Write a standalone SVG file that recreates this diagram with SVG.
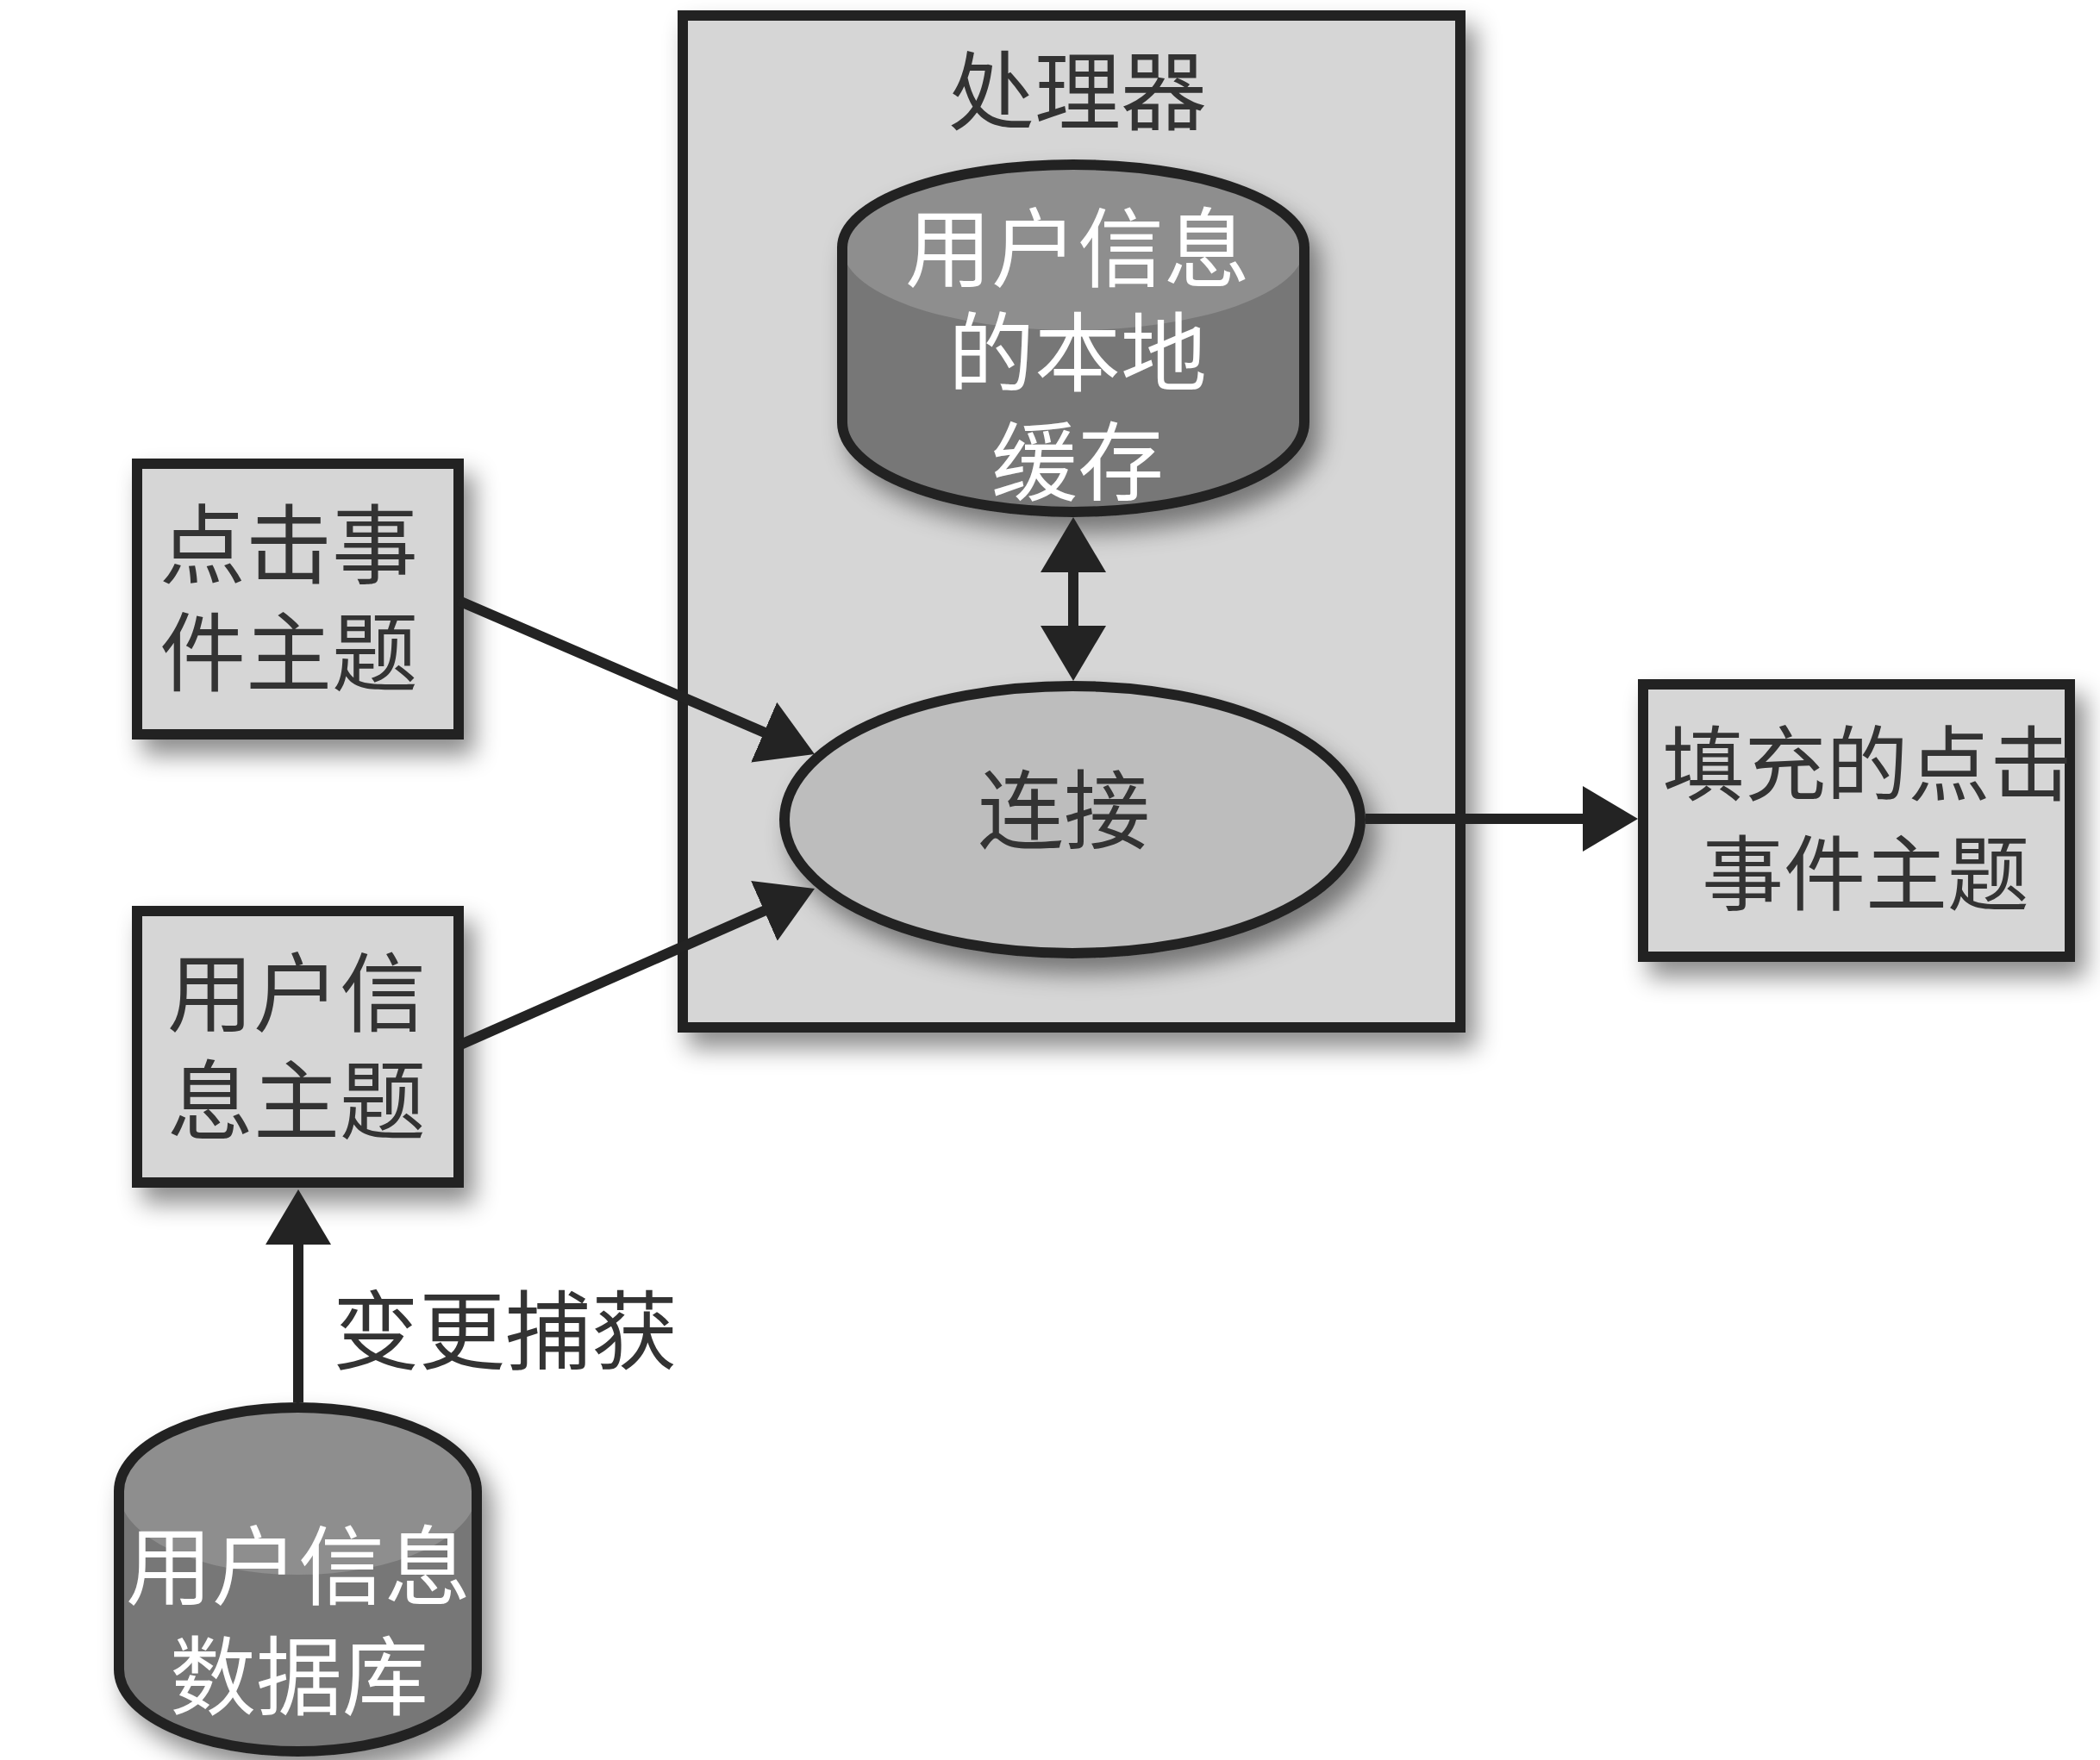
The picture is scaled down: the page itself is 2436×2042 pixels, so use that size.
<svg xmlns="http://www.w3.org/2000/svg" width="2436" height="2042" viewBox="0 0 2436 2042">
<defs>
<filter id="shadow" x="-20%" y="-20%" width="150%" height="150%">
<feDropShadow dx="12" dy="18" stdDeviation="14" flood-color="#000" flood-opacity="0.45"/>
</filter>
<marker id="ah" viewBox="0 0 64 76" refX="44" refY="38" markerWidth="64" markerHeight="76" orient="auto-start-reverse" markerUnits="userSpaceOnUse">
<path d="M0,0 L64,38 L0,76 Z" fill="#232323"/>
</marker>
<style>
.box{fill:#d6d6d6;stroke:#232323;stroke-width:12}
.ell{fill:#bdbdbd;stroke:#232323;stroke-width:12}
.cylbody{fill:#777777}
.cylcap{fill:#8e8e8e}
.cylline{fill:none;stroke:#232323;stroke-width:12}
.t{font-family:"Liberation Sans","Noto Sans CJK SC","Noto Sans CJK TC",sans-serif;font-size:100px;fill:#333333;text-anchor:middle}
.w{fill:#ffffff}
.conn{fill:none;stroke:#232323;stroke-width:12}
</style>
</defs>
<rect width="2436" height="2042" fill="#ffffff"/>

<g id="processor">
<rect class="box" x="792" y="18" width="902" height="1174" filter="url(#shadow)"/>
<text class="t" x="1250" y="143">处理器</text>
</g>

<g id="local-cache" filter="url(#shadow)">
<path class="cylbody" d="M977,287 A268,96 0 0 1 1513,287 L1513,490 A268,104 0 0 1 977,490 Z"/>
<ellipse class="cylcap" cx="1245" cy="287" rx="268" ry="96"/>
<path class="cylline" d="M977,287 A268,96 0 0 1 1513,287 L1513,490 A268,104 0 0 1 977,490 Z"/>
<text class="t w" x="1250" y="325"><tspan x="1250" y="325">用户信息</tspan><tspan x="1250" y="446">的本地</tspan><tspan x="1250" y="573">缓存</tspan></text>
</g>

<g id="join">
<ellipse class="ell" cx="1244" cy="951" rx="334" ry="155" filter="url(#shadow)"/>
<text class="t" x="1234" y="977">连接</text>
</g>

<g id="click-topic">
<rect class="box" x="159" y="538" width="373" height="314" filter="url(#shadow)"/>
<text class="t" x="335" y="669"><tspan x="335" y="669">点击事</tspan><tspan x="335" y="794">件主题</tspan></text>
</g>

<g id="user-topic">
<rect class="box" x="159" y="1057" width="373" height="315" filter="url(#shadow)"/>
<text class="t" x="344" y="1189"><tspan x="344" y="1189">用户信</tspan><tspan x="344" y="1314">息主题</tspan></text>
</g>

<g id="enriched-topic">
<rect class="box" x="1906" y="794" width="495" height="316" filter="url(#shadow)"/>
<text class="t" x="2166" y="922" style="font-size:95px"><tspan x="2166" y="922">填充的点击</tspan><tspan x="2164" y="1049">事件主题</tspan></text>
</g>

<g id="user-db" filter="url(#shadow)">
<path class="cylbody" d="M138,1730 A207.5,97 0 0 1 553,1730 L553,1937 A207.5,95 0 0 1 138,1937 Z"/>
<ellipse class="cylcap" cx="345.5" cy="1730" rx="207.5" ry="97"/>
<path class="cylline" d="M138,1730 A207.5,97 0 0 1 553,1730 L553,1937 A207.5,95 0 0 1 138,1937 Z"/>
<text class="t w" x="346" y="1854"><tspan x="346" y="1854">用户信息</tspan><tspan x="347" y="1982">数据库</tspan></text>
</g>

<g id="connectors">
<line class="conn" x1="532" y1="697" x2="926.6" y2="867.1" marker-end="url(#ah)"/>
<line class="conn" x1="532" y1="1213" x2="926.7" y2="1039.1" marker-end="url(#ah)"/>
<line class="conn" x1="1584" y1="950" x2="1880" y2="950" marker-end="url(#ah)"/>
<line class="conn" x1="1245" y1="620" x2="1245" y2="770" marker-start="url(#ah)" marker-end="url(#ah)"/>
<line class="conn" x1="346" y1="1627" x2="346" y2="1400" marker-end="url(#ah)"/>
<text class="t" x="586" y="1581">变更捕获</text>
</g>
</svg>
